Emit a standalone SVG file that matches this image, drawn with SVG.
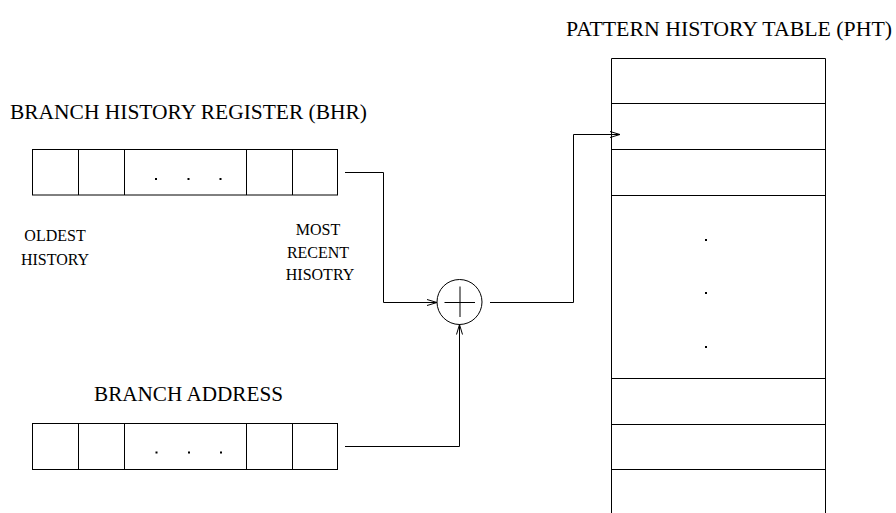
<svg xmlns="http://www.w3.org/2000/svg" width="896" height="513" viewBox="0 0 896 513">
<defs>
<style>
.title{font-family:"Liberation Serif","Times New Roman",serif;font-size:21.2px;fill:#000}
.lbl{font-family:"Liberation Serif","Times New Roman",serif;font-size:16px;fill:#000;text-anchor:middle}
.box{fill:none;stroke:#000;stroke-width:1}
.ln{fill:none;stroke:#000;stroke-width:1}
.conn{fill:none;stroke:#000;stroke-width:1}
.dot{fill:#000}
</style>
<marker id="arr" markerWidth="12" markerHeight="8" refX="11" refY="4" orient="auto" markerUnits="userSpaceOnUse">
<path d="M1,1 L11,4 L1,7" fill="none" stroke="#000" stroke-width="1"/>
</marker>
</defs>
<rect width="896" height="513" fill="#fff"/>

<g id="bhr-title"><text class="title" x="10" y="119" textLength="357" lengthAdjust="spacingAndGlyphs">BRANCH HISTORY REGISTER (BHR)</text></g>

<g id="bhr">
<rect class="box" x="32.5" y="149.5" width="305" height="45.5"/>
<path class="ln" d="M78.5,149.5V195 M124.5,149.5V195 M246.5,149.5V195 M292.5,149.5V195"/>
<rect class="dot" x="155" y="178" width="2" height="2"/>
<rect class="dot" x="187.5" y="178" width="2" height="2"/>
<rect class="dot" x="219.5" y="178" width="2" height="2"/>
</g>

<g id="oldest-label">
<text class="lbl" x="55" y="241">OLDEST</text>
<text class="lbl" x="55" y="265">HISTORY</text>
</g>

<g id="recent-label">
<text class="lbl" x="318" y="235">MOST</text>
<text class="lbl" x="318" y="257.5">RECENT</text>
<text class="lbl" x="320" y="280">HISOTRY</text>
</g>

<g id="ba-title"><text class="title" x="94" y="401" textLength="189" lengthAdjust="spacingAndGlyphs">BRANCH ADDRESS</text></g>

<g id="ba">
<rect class="box" x="32.5" y="423.5" width="305" height="46"/>
<path class="ln" d="M78.5,423.5V469.5 M124.5,423.5V469.5 M246.5,423.5V469.5 M292.5,423.5V469.5"/>
<rect class="dot" x="155.5" y="451.5" width="2" height="2"/>
<rect class="dot" x="188" y="451.5" width="2" height="2"/>
<rect class="dot" x="220" y="451.5" width="2" height="2"/>
</g>

<g id="xor">
<circle class="box" cx="459.5" cy="302" r="22.5"/>
<path class="ln" d="M444.5,302.5H475 M460,286.5V317"/>
</g>

<g id="pht-title"><text class="title" x="566" y="36" textLength="326" lengthAdjust="spacingAndGlyphs">PATTERN HISTORY TABLE (PHT)</text></g>

<g id="pht">
<path class="ln" d="M611.5,514V58.5H825.5V514"/>
<path class="ln" d="M611.5,103.5H825.5 M611.5,149.5H825.5 M611.5,195.5H825.5 M611.5,378.5H825.5 M611.5,424.5H825.5 M611.5,469.5H825.5"/>
<rect class="dot" x="705" y="239" width="2" height="2"/>
<rect class="dot" x="705" y="292" width="2" height="2"/>
<rect class="dot" x="705" y="346" width="2" height="2"/>
</g>

<g id="connectors">
<path class="conn" d="M345,172.5H383.5V302.5H437" marker-end="url(#arr)"/>
<path class="conn" d="M345,446.5H459.5V324.5" marker-end="url(#arr)"/>
<path class="conn" d="M490,302.5H573.5V134.5H620" marker-end="url(#arr)"/>
</g>
</svg>
